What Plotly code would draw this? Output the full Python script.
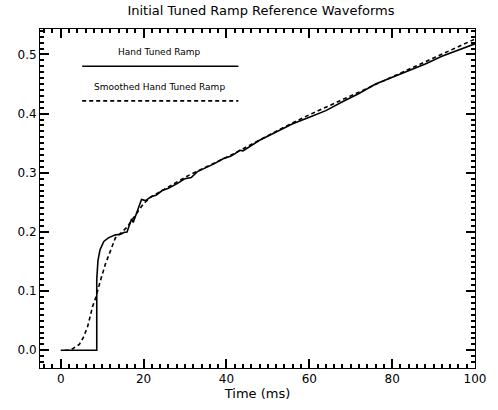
import plotly.graph_objects as go

# Hand tuned ramp (solid)
hand_t = [0, 8.7, 8.7, 9.0, 9.5, 10.4, 11.5, 13.2, 14.5, 15.2, 16.0, 16.5, 17.1, 17.5, 18.5,
          19.5, 20.5, 21.9, 23, 24.5, 26, 28.2, 30, 31.5, 33, 35, 37, 39.3, 41, 42, 43.2, 44,
          46, 48, 52, 56, 60, 64, 68, 72, 76, 80, 84, 88, 92, 96, 100]
hand_v = [0, 0, 0.12, 0.152, 0.17, 0.184, 0.19, 0.195, 0.196, 0.199, 0.2, 0.21, 0.222, 0.216,
          0.235, 0.255, 0.253, 0.26, 0.262, 0.27, 0.274, 0.282, 0.29, 0.292, 0.302, 0.308,
          0.315, 0.324, 0.328, 0.332, 0.338, 0.337, 0.346, 0.355, 0.369, 0.383, 0.394, 0.405,
          0.42, 0.434, 0.45, 0.461, 0.472, 0.484, 0.497, 0.508, 0.518]

# Smoothed hand tuned ramp (dashed)
smooth_t = [1, 2, 3, 4.5, 5.5, 6.5, 7.7, 8.5, 9.6, 10.8, 12, 13.2, 14.5, 16, 18, 20, 22, 25,
            28, 31, 34, 38, 42, 46, 50, 55, 60, 65, 70, 75, 80, 85, 90, 95, 100]
smooth_v = [0, 0, 0.003, 0.01, 0.022, 0.04, 0.074, 0.09, 0.118, 0.146, 0.168, 0.19, 0.198,
            0.208, 0.228, 0.248, 0.26, 0.272, 0.284, 0.296, 0.306, 0.319, 0.333, 0.348, 0.363,
            0.381, 0.398, 0.414, 0.43, 0.446, 0.462, 0.478, 0.494, 0.51, 0.526]

legend_labels = ["Hand Tuned Ramp", "Smoothed Hand Tuned Ramp"]
title_text = "Initial Tuned Ramp Reference Waveforms"
x_title = "Time (ms)"

FONT = "DejaVu Sans"

fig = go.Figure()
fig.add_trace(go.Scatter(x=hand_t, y=hand_v, mode="lines", name=legend_labels[0],
                         line=dict(color="black", width=1.6)))
fig.add_trace(go.Scatter(x=smooth_t, y=smooth_v, mode="lines", name=legend_labels[1],
                         line=dict(color="black", width=1.6, dash="4px,3px")))

fig.add_annotation(x=0.275, y=0.931, xref="paper", yref="paper", text=legend_labels[0],
                   showarrow=False, font=dict(family=FONT, size=9, color="black"),
                   xanchor="center", yanchor="middle")
fig.add_shape(type="line", xref="paper", yref="paper", x0=0.097, x1=0.456, y0=0.89, y1=0.89,
              line=dict(color="black", width=1.6))
fig.add_annotation(x=0.275, y=0.828, xref="paper", yref="paper", text=legend_labels[1],
                   showarrow=False, font=dict(family=FONT, size=9, color="black"),
                   xanchor="center", yanchor="middle")
fig.add_shape(type="line", xref="paper", yref="paper", x0=0.097, x1=0.456, y0=0.788, y1=0.788,
              line=dict(color="black", width=1.6, dash="4px,3px"))

fig.update_xaxes(range=[-5, 100], dtick=20, ticks="inside", ticklen=9, tickcolor="black",
                 tickwidth=2, showline=True, linecolor="black", mirror="ticks",
                 minor=dict(ticks="inside", dtick=2, ticklen=4, tickcolor="black", tickwidth=2),
                 title=dict(text=x_title, font=dict(size=13), standoff=2))
fig.update_yaxes(range=[-0.03, 0.543], dtick=0.1, tickformat=".1f", ticks="inside", ticklen=9,
                 tickcolor="black", tickwidth=2, showline=True, linecolor="black",
                 mirror="ticks",
                 minor=dict(ticks="inside", dtick=0.01, ticklen=4, tickcolor="black", tickwidth=2))

fig.update_layout(
    width=498, height=410,
    margin=dict(l=40, r=15, t=29, b=38),
    paper_bgcolor="white", plot_bgcolor="white",
    font=dict(family=FONT, size=12, color="black"),
    showlegend=False,
    title=dict(text=title_text, x=0.524, xanchor="center", y=0.975, yanchor="middle",
               font=dict(size=13)),
)

fig.write_html("out.html", config={"displayModeBar": False},
               post_script="document.body.style.margin='0';")
